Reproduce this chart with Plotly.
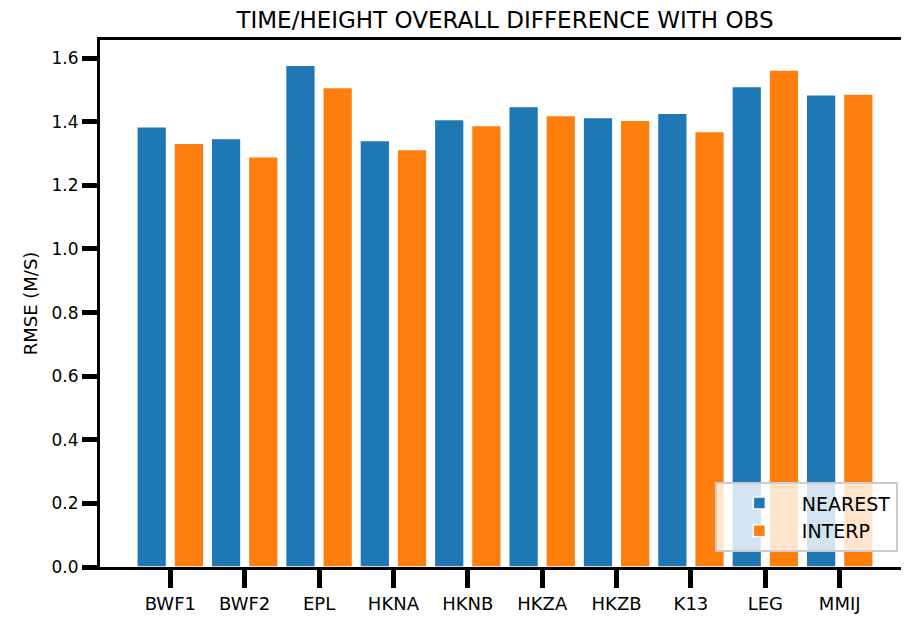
import plotly.graph_objects as go

stations = ["BWF1", "BWF2", "EPL", "HKNA", "HKNB", "HKZA", "HKZB", "K13", "LEG", "MMIJ"]
nearest = [1.384, 1.347, 1.578, 1.341, 1.407, 1.448, 1.413, 1.427, 1.511, 1.485]
interp = [1.332, 1.290, 1.508, 1.313, 1.388, 1.420, 1.405, 1.369, 1.563, 1.487]
y_ticks = [0.0, 0.2, 0.4, 0.6, 0.8, 1.0, 1.2, 1.4, 1.6]
y_tick_text = ["0.0", "0.2", "0.4", "0.6", "0.8", "1.0", "1.2", "1.4", "1.6"]

FONT = "DejaVu Sans"
BLUE = "#1f77b4"
ORANGE = "#ff7f0e"

fig = go.Figure()
fig.add_trace(go.Bar(x=stations, y=nearest, name="NEAREST",
                     marker=dict(color=BLUE, line=dict(color="white", width=1.5))))
fig.add_trace(go.Bar(x=stations, y=interp, name="INTERP",
                     marker=dict(color=ORANGE, line=dict(color="white", width=1.5))))

fig.update_layout(
    width=909, height=625,
    margin=dict(l=92, r=7, t=32, b=66, autoexpand=False),
    paper_bgcolor="white", plot_bgcolor="white",
    barmode="group", bargap=0.0, bargroupgap=0.2,
    title=dict(text="TIME/HEIGHT OVERALL DIFFERENCE WITH OBS",
               x=497 / 909, xanchor="center", y=1 - 12 / 625, yanchor="middle",
               font=dict(family=FONT, size=23, color="black")),
    font=dict(family=FONT, color="black"),
    legend=dict(x=0.985, xanchor="right", y=0.028, yanchor="bottom",
                bgcolor="rgba(255,255,255,0.8)", bordercolor="#cccccc", borderwidth=2,
                font=dict(family=FONT, size=19, color="black"),
                itemwidth=75, tracegroupgap=8),
    showlegend=True,
)

fig.update_xaxes(
    range=[-0.945, 9.945], showgrid=False, zeroline=False,
    showline=True, linecolor="black", linewidth=3, mirror=True,
    ticks="outside", ticklen=18, tickwidth=5, tickcolor="black",
    tickfont=dict(family=FONT, size=18, color="black"),
)
fig.update_yaxes(
    range=[0, 1.657], showgrid=False, zeroline=False,
    showline=True, linecolor="black", linewidth=3,
    ticks="outside", ticklen=15, tickwidth=5, tickcolor="black",
    tickvals=y_ticks, ticktext=y_tick_text,
    tickfont=dict(family=FONT, size=17, color="black"),
    title=dict(text="RMSE (M/S)", font=dict(family=FONT, size=18, color="black"), standoff=10),
)

fig.write_html("out.html")
